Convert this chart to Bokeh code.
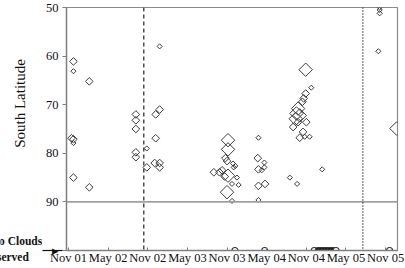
import math
from bokeh.plotting import figure
from bokeh.layouts import row
from bokeh.models import Range1d, FixedTicker, Span, ColumnDataSource, LinearAxis
from bokeh.core.properties import value
from bokeh.embed import file_html
from bokeh.resources import INLINE

# x values: months since Nov 2001
tick_months = [0, 6, 12, 18, 24, 30, 36, 42, 48]
tick_labels = ["Nov 01", "May 02", "Nov 02", "May 03", "Nov 03",
               "May 04", "Nov 04", "May 05", "Nov 05"]
lat_ticks = [50, 60, 70, 80, 90]

# observed cloud latitude (diamonds): month, latitude, size class (1 small, 2 medium, 3 large)
obs_month = [0.75, 0.75, 3.15, 0.45, 0.75, 0.75, 0.75, 3.15,
             10.2, 10.2, 10.2, 10.2, 10.2, 11.85, 11.85, 13.8, 13.2, 13.8, 13.2, 13.05, 13.8, 13.8,
             24.15, 24.15, 23.75, 24.0, 23.25, 22.85, 22.0, 24.15, 23.65, 24.0, 24.75, 25.5, 25.25,
             24.9, 24.75, 25.75, 25.0,
             28.75, 28.65, 29.65, 28.75, 29.25, 29.65, 28.75, 29.75, 28.75,
             35.9, 36.75, 35.9, 35.6, 35.4, 34.75, 34.5, 35.0, 34.4, 34.75, 36.0, 34.0, 35.5,
             35.0, 35.75, 36.5, 33.5, 34.6, 38.4,
             47.1, 47.1, 47.1, 46.9, 49.65]
obs_lat = [61.1, 63.1, 65.2, 76.9, 77.1, 77.9, 85.0, 87.0,
           72.0, 73.2, 75.0, 79.8, 80.8, 79.0, 82.9, 58.0, 72.0, 71.0, 76.9, 82.0, 82.0, 82.9,
           77.3, 79.2, 81.0, 81.6, 83.5, 83.9, 83.9, 84.6, 84.8, 88.0, 89.8, 85.0, 82.6,
           82.1, 86.3, 86.5, 82.9,
           76.8, 81.0, 81.9, 83.3, 83.5, 82.9, 86.7, 86.3, 89.6,
           62.8, 66.5, 67.7, 68.7, 69.4, 70.8, 71.8, 72.2, 72.9, 73.6, 73.6, 74.6, 75.6,
           76.8, 76.6, 76.6, 85.0, 86.3, 83.3,
           50.0, 50.5, 51.2, 59.0, 74.9]
obs_class = [2, 1, 2, 2, 2, 1, 2, 2,
             2, 2, 2, 2, 2, 1, 2, 1, 2, 2, 2, 2, 2, 2,
             3, 3, 2, 2, 2, 2, 2, 3, 2, 3, 1, 1, 1,
             1, 1, 1, 1,
             1, 2, 1, 2, 1, 1, 2, 2, 1,
             3, 1, 2, 2, 2, 3, 3, 3, 3, 2, 2, 2, 2,
             2, 1, 1, 1, 1, 1,
             1, 1, 1, 1, 3]

# months with no clouds observed (plotted at 100)
none_month = [25.2, 29.7, 37.2, 37.8, 38.25, 38.7, 39.15, 39.6, 40.05, 40.5, 48.6]
none_filled = [0, 0, 0, 1, 1, 1, 1, 1, 1, 0, 0]
no_cloud_lat = 100

dashed_month = 11.4
dotted_month = 44.55

y_title = "South Latitude"
no_cloud_lines = ["No Clouds", "Observed"]

SERIF = "'Liberation Serif', 'Times New Roman', serif"
size_px = {1: 3.6, 2: 5.4, 3: 9.5}
H = 268
STRIP_W = 42

# ---- left strip: the axis title and the "No Clouds Observed" note ----
# (its frame is aligned with the main frame, 7..250 px from the top; data = pixels)
s = figure(width=STRIP_W, height=H, output_backend="svg", toolbar_location=None,
           x_range=Range1d(0, STRIP_W), y_range=Range1d(250, 7),
           x_axis_location="below", y_axis_location=None,
           min_border_left=0, min_border_right=0, min_border_top=7, min_border_bottom=18)
s.outline_line_color = None
s.background_fill_color = "white"
s.border_fill_color = "white"
s.xgrid.visible = False
s.ygrid.visible = False
s.text(x=[19], y=[103], text=[y_title], angle=math.pi / 2,
       text_font=value(SERIF), text_font_size="15px", text_align="center",
       text_baseline="middle", text_color="#111111")
s.text(x=[16], y=[240], text=no_cloud_lines[:1],
       text_font=value(SERIF), text_font_size="11.5px", text_font_style="bold",
       text_align="center", text_baseline="middle", text_color="#111111")
# second line of the note, carried by the strip's bottom axis
s.xaxis.axis_label = None
s.xaxis.ticker = FixedTicker(ticks=[32])
s.xaxis.major_label_overrides = {32: no_cloud_lines[1]}
s.xaxis.axis_line_color = None
s.xaxis.major_tick_line_color = None
s.xaxis.minor_tick_line_color = None
s.xaxis.major_tick_in = 0
s.xaxis.major_tick_out = 0
s.xaxis.major_label_standoff = 0
s.xaxis.major_label_text_font = SERIF
s.xaxis.major_label_text_font_size = "11.5px"
s.xaxis.major_label_text_font_style = "bold"
s.xaxis.major_label_text_color = "#111111"

# ---- main chart ----
p = figure(width=405 - STRIP_W, height=H, output_backend="svg", toolbar_location=None,
           x_range=Range1d(-0.3, 49.8), y_range=Range1d(100, 50),
           min_border_left=21, min_border_right=8, min_border_top=7, min_border_bottom=18)
p.background_fill_color = "white"
p.border_fill_color = "white"
p.outline_line_color = "#8a8a8a"
p.outline_line_width = 1.2
p.xgrid.visible = False
p.ygrid.visible = False

p.add_layout(Span(location=90, dimension="width", line_color="#a0a0a0", line_width=1.6))
p.add_layout(Span(location=dashed_month, dimension="height", line_color="#222222",
                  line_width=1.2, line_dash="4 3"))
p.add_layout(Span(location=dotted_month, dimension="height", line_color="#111111",
                  line_width=1.4, line_dash="1 2"))

src = ColumnDataSource(dict(x=obs_month, y=obs_lat,
                            s=[size_px[c] for c in obs_class]))
p.scatter("x", "y", source=src, marker="square", size="s", angle=math.pi / 4,
          fill_alpha=0, line_color="#3c3c3c", line_width=1)

nsrc = ColumnDataSource(dict(x=none_month, y=[no_cloud_lat] * len(none_month),
                             f=["#111111" if v else "white" for v in none_filled]))
p.scatter("x", "y", source=nsrc, marker="circle", size=6, fill_color="f",
          line_color="#333333", line_width=1.2)

p.xaxis.axis_label = None
p.yaxis.axis_label = None
p.xaxis.ticker = FixedTicker(ticks=tick_months)
p.xaxis.major_label_overrides = {m: l for m, l in zip(tick_months, tick_labels)}
p.yaxis.ticker = FixedTicker(ticks=lat_ticks + [no_cloud_lat])
p.yaxis.major_label_overrides = {no_cloud_lat: "\u25b8"}
p.xaxis.minor_tick_line_color = None
p.yaxis.minor_tick_line_color = None
for ax in (p.xaxis, p.yaxis):
    ax.major_label_text_font = SERIF
    ax.major_label_text_font_size = "12.5px"
    ax.major_label_text_color = "#111111"
    ax.axis_line_color = "#808080"
    ax.axis_line_width = 1.4
    ax.major_tick_line_color = "#808080"
p.xaxis.major_tick_in = 3
p.xaxis.major_tick_out = 0
p.xaxis.major_label_standoff = 0
p.yaxis.major_tick_in = 0
p.yaxis.major_tick_out = 4
p.yaxis.major_label_standoff = 4

# pointer shaft for "No Clouds Observed": an outer axis whose single tick runs inward
ptr = LinearAxis(ticker=FixedTicker(ticks=[no_cloud_lat]),
                 major_label_overrides={no_cloud_lat: ""})
ptr.axis_line_color = None
ptr.major_tick_in = 20
ptr.major_tick_out = 0
ptr.major_tick_line_color = "#111111"
ptr.major_tick_line_width = 1.2
ptr.minor_tick_line_color = None
ptr.major_label_standoff = 0
ptr.major_label_text_font_size = "1px"
p.add_layout(ptr, "left")

layout = row(s, p, spacing=0)
open("out.html", "w").write(file_html(layout, INLINE))
